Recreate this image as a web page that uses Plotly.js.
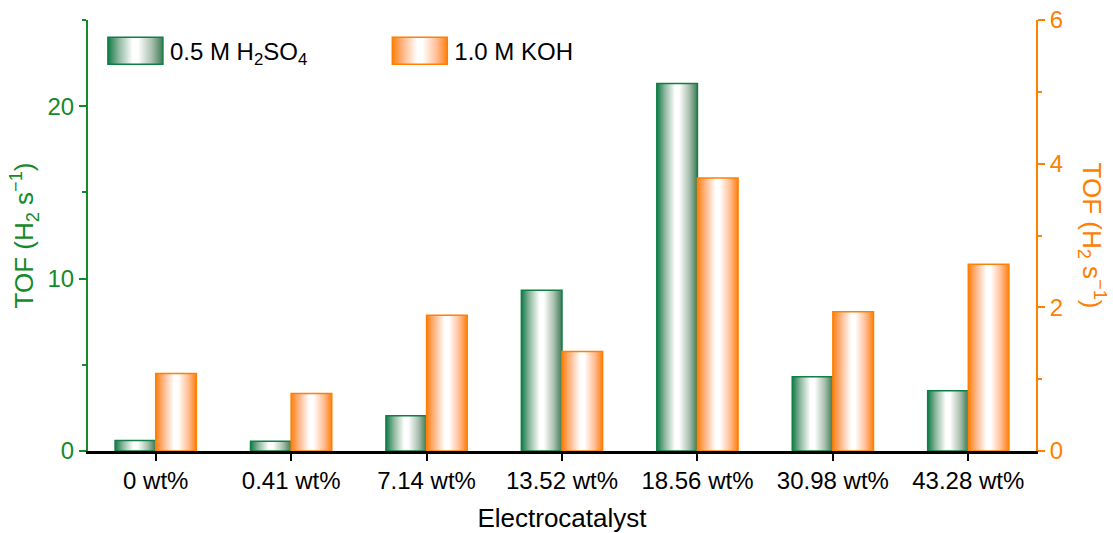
<!DOCTYPE html>
<html>
<head>
<meta charset="utf-8">
<script src="https://cdn.plot.ly/plotly-3.0.1.min.js"></script>
<style>html,body{margin:0;padding:0;background:#fff;}</style>
</head>
<body>
<div id="chart" style="width:1113px;height:533px;"></div>
<script>
const categories = ['0 wt%', '0.41 wt%', '7.14 wt%', '13.52 wt%', '18.56 wt%', '30.98 wt%', '43.28 wt%'];
const tofAcid = [0.61, 0.57, 2.04, 9.32, 21.32, 4.31, 3.50];
const tofAlkaline = [1.08, 0.80, 1.89, 1.385, 3.80, 1.94, 2.60];
const seriesNames = ['0.5 M H<sub>2</sub>SO<sub>4</sub>', '1.0 M KOH'];

const GREEN = '#148a2a';
const BAR_GREEN = '#0f7f45';
const ORANGE = '#ff8000';
const FONT = 'Liberation Sans, Arial, sans-serif';

const traces = [
  {
    type: 'bar', x: categories, y: tofAcid, name: seriesNames[0],
    xaxis: 'x', yaxis: 'y', width: 0.3, offset: -0.3, legend: 'legend',
    marker: {color: BAR_GREEN, line: {color: BAR_GREEN, width: 1.5}},
    hoverinfo: 'skip'
  },
  {
    type: 'bar', x: categories, y: tofAlkaline, name: seriesNames[1],
    xaxis: 'x', yaxis: 'y2', width: 0.3, offset: 0, legend: 'legend2',
    marker: {color: ORANGE, line: {color: ORANGE, width: 1.5}},
    hoverinfo: 'skip'
  }
];

const layout = {
  width: 1113, height: 533,
  margin: {l: 88, r: 77, t: 20, b: 82},
  paper_bgcolor: '#fff', plot_bgcolor: '#fff',
  font: {family: FONT, size: 24, color: '#000'},
  showlegend: true,
  xaxis: {
    type: 'category', range: [-0.5, 6.5],
    showline: true, linecolor: '#000', linewidth: 2.5,
    ticks: 'outside', ticklen: 7, tickwidth: 2, tickcolor: '#000',
    tickfont: {size: 24, color: '#000', family: FONT},
    showgrid: false, zeroline: false,
    title: {text: 'Electrocatalyst', font: {size: 26, color: '#000', family: FONT}, standoff: 17}
  },
  xaxis2: {
    overlaying: 'x', side: 'top', type: 'linear', range: [-0.5, 6.5],
    tick0: 0, dtick: 0.5,
    showline: true, linecolor: '#000', linewidth: 2.5,
    ticks: 'inside', ticklen: 3, tickwidth: 1.5, tickcolor: '#000',
    showticklabels: false, showgrid: false, zeroline: false
  },
  yaxis: {
    range: [0, 25], tick0: 0, dtick: 10,
    showline: true, linecolor: GREEN, linewidth: 2,
    ticks: 'outside', ticklen: 7, tickwidth: 2, tickcolor: GREEN,
    minor: {dtick: 5, ticks: 'outside', ticklen: 4, tickwidth: 2, tickcolor: GREEN},
    tickfont: {size: 24, color: GREEN, family: FONT},
    showgrid: false, zeroline: false,
    title: {text: 'TOF (H<sub>2</sub> s<sup>\u22121</sup>)', font: {size: 26, color: GREEN, family: FONT}, standoff: 6}
  },
  yaxis2: {
    overlaying: 'y', side: 'right', range: [0, 6], tick0: 0, dtick: 2,
    showline: true, linecolor: ORANGE, linewidth: 2,
    ticks: 'outside', ticklen: 7, tickwidth: 2, tickcolor: ORANGE,
    minor: {dtick: 1, ticks: 'outside', ticklen: 4, tickwidth: 2, tickcolor: ORANGE},
    tickfont: {size: 24, color: ORANGE, family: FONT},
    showgrid: false, zeroline: false,
    title: {text: 'TOF (H<sub>2</sub> s<sup>\u22121</sup>)', font: {size: 26, color: ORANGE, family: FONT}, standoff: 12}
  },
  legend: {
    x: 0.021, y: 0.928, xanchor: 'left', yanchor: 'middle',
    bgcolor: 'rgba(0,0,0,0)', borderwidth: 0, entrywidth: 260,
    font: {size: 24, color: '#000', family: FONT}
  },
  legend2: {
    x: 0.321, y: 0.928, xanchor: 'left', yanchor: 'middle',
    bgcolor: 'rgba(0,0,0,0)', borderwidth: 0, entrywidth: 220,
    font: {size: 24, color: '#000', family: FONT}
  }
};

const ids = ['gradGreen', 'gradOrange'];

function addDefs(gd) {
  const svg = gd.querySelector('svg.main-svg');
  const defs = svg.querySelector('defs');
  const NS = 'http://www.w3.org/2000/svg';
  function grad(id, stops) {
    if (document.getElementById(id)) return;
    const g = document.createElementNS(NS, 'linearGradient');
    g.setAttribute('id', id);
    g.setAttribute('x1', '0'); g.setAttribute('x2', '1');
    g.setAttribute('y1', '0'); g.setAttribute('y2', '0');
    stops.forEach(([o, c]) => {
      const s = document.createElementNS(NS, 'stop');
      s.setAttribute('offset', o); s.setAttribute('stop-color', c);
      g.appendChild(s);
    });
    defs.appendChild(g);
  }
  grad('gradGreen', [[0, '#127a48'], [0.2, '#8fb8a0'], [0.45, '#ffffff'], [0.55, '#ffffff'], [0.8, '#a9bfae'], [1, '#3d7a55']]);
  grad('gradOrange', [[0, '#ff7f10'], [0.2, '#ffb889'], [0.45, '#ffffff'], [0.55, '#ffffff'], [0.8, '#ffbf96'], [1, '#ff7f10']]);
}

function restyleDom(gd) {
  addDefs(gd);
  gd.querySelectorAll('g.trace.bars').forEach((t, i) => {
    t.querySelectorAll('path').forEach(p => { p.style.fill = 'url(#' + ids[i] + ')'; p.style.fillOpacity = 1; });
  });

  ['g.legend', 'g.legend2'].forEach((sel, i) => {
    const lg = gd.querySelector(sel);
    if (!lg) return;
    lg.querySelectorAll('[clip-path]').forEach(e => e.removeAttribute('clip-path'));
    const p = lg.querySelector('.legendpoints path');
    if (p) {
      p.setAttribute('transform', 'translate(0,0)');
      p.setAttribute('d', 'M0,-13.5H55V13.5H0Z');
      p.style.fill = 'url(#' + ids[i] + ')';
      p.style.fillOpacity = 1;
      p.style.strokeWidth = '1.5px';
    }
    lg.querySelectorAll('text').forEach(t => {
      t.setAttribute('x', 62);
      t.removeAttribute('transform');
      t.querySelectorAll('tspan[x]').forEach(s => s.setAttribute('x', 62));
    });
  });

  // right axis title reads top-to-bottom
  const t2 = gd.querySelector('.g-y2title text');
  if (t2 && !t2.dataset.flipped) {
    const tr = t2.getAttribute('transform') || '';
    t2.setAttribute('transform', 'translate(-9,0) ' + tr.replace('rotate(-90', 'rotate(90'));
    t2.dataset.flipped = '1';
  }
}

Plotly.newPlot('chart', traces, layout, {staticPlot: true, displayModeBar: false}).then(gd => {
  restyleDom(gd);
  setTimeout(() => restyleDom(gd), 30);
  setTimeout(() => restyleDom(gd), 200);
});
</script>
</body>
</html>
